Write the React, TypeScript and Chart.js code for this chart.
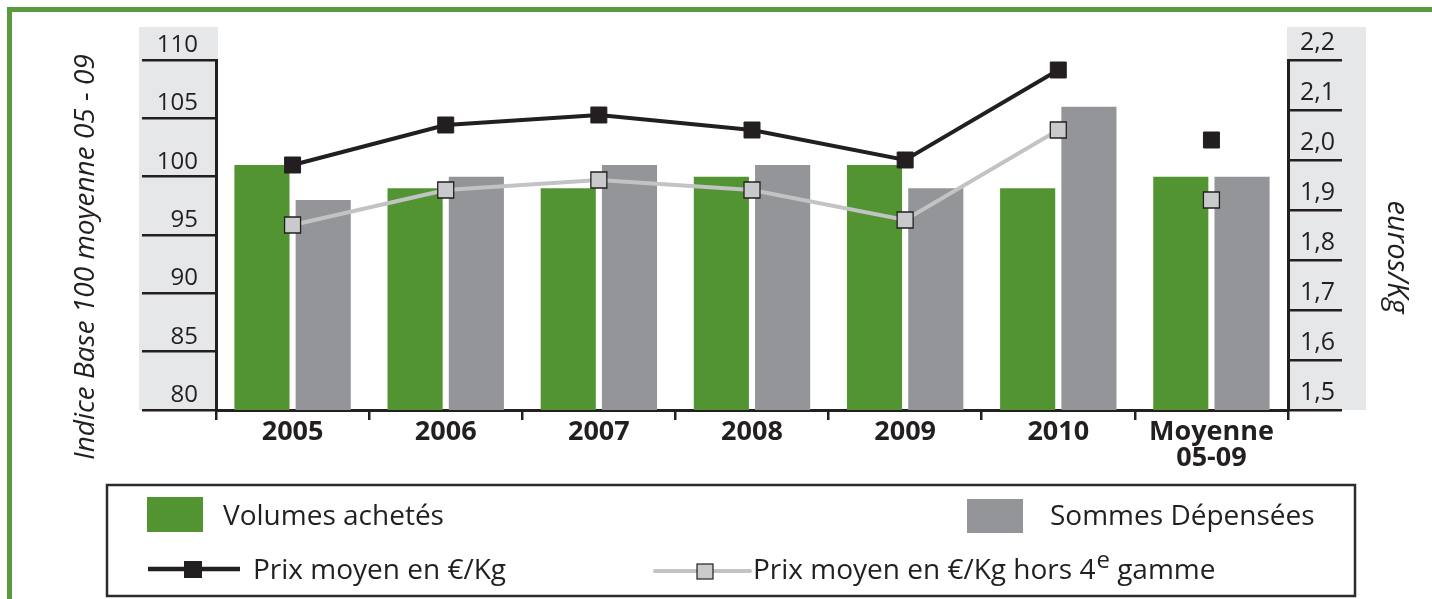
import React, { useEffect, useRef } from 'react';
import { Chart, registerables } from 'chart.js';

Chart.register(...registerables);

// ---- Data ----
const categories: (string | string[])[] = ['2005', '2006', '2007', '2008', '2009', '2010', ['Moyenne', '05-09']];
const volumesAchetes = [101, 99, 99, 100, 101, 99, 100];
const sommesDepensees = [98, 100, 101, 101, 99, 106, 100];
const prixMoyen = [1.99, 2.07, 2.09, 2.06, 2.0, 2.18, 2.04];
const prixMoyenHors4e = [1.87, 1.94, 1.96, 1.94, 1.88, 2.06, 1.92];
const leftTicks = [80, 85, 90, 95, 100, 105, 110];
const rightTicks = [1.5, 1.6, 1.7, 1.8, 1.9, 2.0, 2.1, 2.2];
const leftTitle = 'Indice Base 100 moyenne 05 - 09';
const rightTitle = 'euros/Kg';
const labelVolumes = 'Volumes achetés';
const labelSommes = 'Sommes Dépensées';
const labelPrix = 'Prix moyen en €/Kg';
const labelPrixHorsParts = ['Prix moyen en €/Kg hors 4', 'e', ' gamme'];

// ---- Styles ----
const GREEN = '#529432';
const GRAY = '#939598';
const BLACK = '#231f20';
const LIGHT_LINE = '#c2c3c5';
const LIGHT_MARK = '#c9cacc';
const BAND = '#e6e7e8';
const FRAME = '#5a9a3c';
const FONT = '"Open Sans", "Noto Sans", sans-serif';
const W = 1432;
const H = 599;

const decorPlugin = {
  id: 'decor',
  beforeDraw(chart: any) {
    const { ctx, chartArea: ca } = chart;
    ctx.save();
    ctx.fillStyle = '#ffffff';
    ctx.fillRect(0, 0, W, H);
    // grey axis bands
    ctx.fillStyle = BAND;
    ctx.fillRect(ca.left - 77, ca.top - 33, 79, ca.bottom - ca.top + 33);
    ctx.fillRect(ca.right - 1, ca.top - 33, 79, ca.bottom - ca.top + 33);
    // green frame
    ctx.fillStyle = FRAME;
    ctx.fillRect(7, 7, W - 7, 5);
    ctx.fillRect(7, 7, 5, H - 7);
    ctx.restore();
  },
  afterDraw(chart: any) {
    const { ctx } = chart;
    ctx.save();
    // axis titles
    ctx.fillStyle = BLACK;
    ctx.textAlign = 'center';
    ctx.textBaseline = 'middle';
    ctx.save();
    ctx.font = `italic 28px ${FONT}`;
    ctx.translate(86, 257);
    ctx.rotate(-Math.PI / 2);
    ctx.fillText(leftTitle, 0, 0);
    ctx.restore();
    ctx.save();
    ctx.font = `italic 29px ${FONT}`;
    ctx.translate(1396, 257);
    ctx.rotate(Math.PI / 2);
    ctx.fillText(rightTitle, 0, 0);
    ctx.restore();

    // legend box
    ctx.lineWidth = 2.5;
    ctx.strokeStyle = '#2b2b2b';
    ctx.strokeRect(107, 485, 1248, 111);

    // row 1 swatches
    ctx.fillStyle = GREEN;
    ctx.fillRect(147, 497, 56, 35);
    ctx.fillStyle = GRAY;
    ctx.fillRect(967, 499, 56, 34);

    // row 2 line swatches
    ctx.strokeStyle = BLACK;
    ctx.lineWidth = 4.5;
    ctx.beginPath();
    ctx.moveTo(148, 569);
    ctx.lineTo(240, 569);
    ctx.stroke();
    ctx.fillStyle = BLACK;
    ctx.fillRect(184, 561, 18, 17);

    ctx.strokeStyle = LIGHT_LINE;
    ctx.lineWidth = 4;
    ctx.lineCap = 'round';
    ctx.beginPath();
    ctx.moveTo(655, 571);
    ctx.lineTo(750, 571);
    ctx.stroke();
    ctx.lineCap = 'butt';
    ctx.fillStyle = LIGHT_MARK;
    ctx.fillRect(697, 564, 16, 15);
    ctx.strokeStyle = BLACK;
    ctx.lineWidth = 1.2;
    ctx.strokeRect(697, 564, 16, 15);

    // legend texts
    ctx.fillStyle = BLACK;
    ctx.textAlign = 'left';
    ctx.textBaseline = 'alphabetic';
    ctx.font = `28px ${FONT}`;
    ctx.fillText(labelVolumes, 223, 525);
    ctx.fillText(labelSommes, 1050, 525);
    ctx.fillText(labelPrix, 253, 579);
    let x = 753;
    ctx.fillText(labelPrixHorsParts[0], x, 579);
    x += ctx.measureText(labelPrixHorsParts[0]).width + 1;
    ctx.font = `24px ${FONT}`;
    ctx.fillText(labelPrixHorsParts[1], x, 568);
    x += ctx.measureText(labelPrixHorsParts[1]).width;
    ctx.font = `28px ${FONT}`;
    ctx.fillText(labelPrixHorsParts[2], x, 579);
    ctx.restore();
  },
};

export default function App() {
  const canvasRef = useRef<HTMLCanvasElement | null>(null);

  useEffect(() => {
    document.body.style.margin = '0';
    const canvas = canvasRef.current;
    if (!canvas) return;
    Chart.defaults.font.family = FONT;

    const chart = new Chart(canvas, {
      type: 'bar',
      data: {
        labels: categories as any,
        datasets: [
          {
            type: 'line',
            label: labelPrix,
            data: prixMoyen,
            yAxisID: 'y2',
            borderColor: BLACK,
            borderWidth: 4,
            backgroundColor: BLACK,
            pointStyle: 'rect',
            pointRadius: 11.3,
            pointBackgroundColor: BLACK,
            pointBorderColor: BLACK,
            pointBorderWidth: 1,
            tension: 0,
            order: 0,
            segment: {
              borderColor: (c: any) => (c.p1DataIndex === categories.length - 1 ? 'rgba(0,0,0,0)' : BLACK),
            },
          } as any,
          {
            type: 'line',
            label: labelPrixHorsParts.join(''),
            data: prixMoyenHors4e,
            yAxisID: 'y2',
            borderColor: LIGHT_LINE,
            borderWidth: 4,
            backgroundColor: LIGHT_MARK,
            pointStyle: 'rect',
            pointRadius: 11.3,
            pointBackgroundColor: LIGHT_MARK,
            pointBorderColor: BLACK,
            pointBorderWidth: 1.3,
            tension: 0,
            order: 1,
            segment: {
              borderColor: (c: any) => (c.p1DataIndex === categories.length - 1 ? 'rgba(0,0,0,0)' : LIGHT_LINE),
            },
          } as any,
          {
            type: 'bar',
            label: labelVolumes,
            data: volumesAchetes,
            yAxisID: 'y',
            backgroundColor: GREEN,
            borderWidth: 0,
            barPercentage: 0.9,
            categoryPercentage: 0.8,
            order: 2,
          },
          {
            type: 'bar',
            label: labelSommes,
            data: sommesDepensees,
            yAxisID: 'y',
            backgroundColor: GRAY,
            borderWidth: 0,
            barPercentage: 0.9,
            categoryPercentage: 0.8,
            order: 2,
          },
        ],
      },
      options: {
        responsive: false,
        animation: false,
        devicePixelRatio: 1,
        layout: { padding: { left: 140, right: 64, top: 60, bottom: 129 } },
        plugins: {
          legend: { display: false },
          tooltip: { enabled: false },
          title: { display: false },
        },
        scales: {
          x: {
            type: 'category',
            offset: true,
            grid: {
              offset: true,
              drawOnChartArea: false,
              drawTicks: true,
              tickLength: 10,
              color: BLACK,
              lineWidth: 2.5,
            },
            border: { display: true, color: BLACK, width: 3 },
            ticks: {
              color: BLACK,
              font: { family: FONT, size: 27, weight: 'bold', lineHeight: 0.98 },
              padding: -1,
              maxRotation: 0,
              autoSkip: false,
            },
            afterFit: (s: any) => {
              s.height = 60;
            },
          },
          y: {
            type: 'linear',
            position: 'left',
            min: 80,
            max: 110,
            afterBuildTicks: (s: any) => {
              s.ticks = leftTicks.map((v) => ({ value: v }));
            },
            grid: {
              drawOnChartArea: false,
              drawTicks: true,
              tickLength: 74,
              color: BLACK,
              lineWidth: 2.5,
            },
            border: { display: true, color: BLACK, width: 3 },
            ticks: {
              color: BLACK,
              font: { family: FONT, size: 24 },
              padding: -56,
              labelOffset: -15,
              callback: (v: any) => String(v),
            },
            afterFit: (s: any) => {
              s.width = 76;
            },
          },
          y2: {
            type: 'linear',
            position: 'right',
            min: 1.5,
            max: 2.2,
            afterBuildTicks: (s: any) => {
              s.ticks = rightTicks.map((v) => ({ value: v }));
            },
            grid: {
              drawOnChartArea: false,
              drawTicks: true,
              tickLength: 54,
              color: BLACK,
              lineWidth: 2.5,
            },
            border: { display: true, color: BLACK, width: 3 },
            ticks: {
              color: BLACK,
              font: { family: FONT, size: 25 },
              padding: -42,
              labelOffset: -17,
              callback: (v: any) => Number(v).toFixed(1).replace('.', ','),
            },
            afterFit: (s: any) => {
              s.width = 80;
            },
          },
        },
      } as any,
      plugins: [decorPlugin],
    });

    return () => {
      chart.destroy();
    };
  }, []);

  return (
    <div style={{ position: 'absolute', left: 0, top: 0, width: W, height: H, background: '#fff' }}>
      <canvas ref={canvasRef} width={W} height={H} style={{ display: 'block', width: W, height: H }} />
    </div>
  );
}
